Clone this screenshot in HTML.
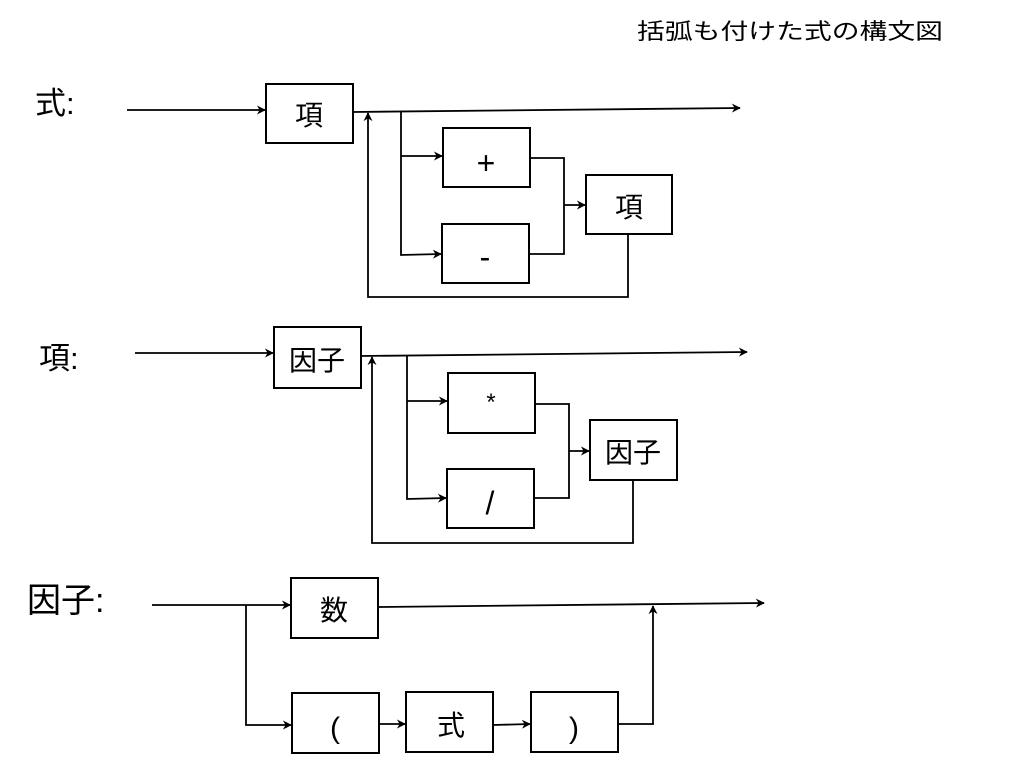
<!DOCTYPE html>
<html><head><meta charset="utf-8"><style>html,body{margin:0;padding:0;background:#fff}svg{display:block}</style></head>
<body>
<svg width="1024" height="768" viewBox="0 0 1024 768" xmlns="http://www.w3.org/2000/svg" font-family="'Liberation Sans','Noto Sans CJK JP',sans-serif">
<defs>
<marker id="a" viewBox="0 0 10 10" refX="9" refY="5" markerWidth="5" markerHeight="5" orient="auto"><path d="M0,0 L10,5 L0,10 L3,5 z" fill="#000"/></marker>
</defs>
<text x="637" y="39" font-size="22" textLength="306" lengthAdjust="spacingAndGlyphs">括弧も付けた式の構文図</text>
<text x="35" y="114" font-size="31">式:</text>
<text x="39" y="369" font-size="31">項:</text>
<text x="27" y="612" font-size="34">因子:</text>
<g fill="#fff" stroke="#000" stroke-width="2">
<rect x="266" y="84" width="87" height="59"/>
<rect x="443" y="128" width="87" height="59"/>
<rect x="442" y="224" width="87" height="59"/>
<rect x="586" y="175" width="86" height="59"/>
<rect x="274" y="327" width="87" height="61"/>
<rect x="448" y="373" width="87" height="60"/>
<rect x="447" y="469" width="87" height="59"/>
<rect x="590" y="420" width="87" height="60"/>
<rect x="291" y="578" width="87" height="60"/>
<rect x="292" y="693" width="87" height="60"/>
<rect x="406" y="692" width="87" height="60"/>
<rect x="531" y="692" width="87" height="60"/>
</g>
<g font-size="28" text-anchor="middle">
<text x="309" y="125">項</text>
<text x="486" y="174" font-size="32">+</text>
<text x="485" y="268" font-size="32">-</text>
<text x="629" y="217">項</text>
<text x="317" y="370">因子</text>
<text x="491" y="410" font-size="24">*</text>
<text x="490" y="514" font-size="32">/</text>
<text x="633" y="462">因子</text>
<text x="334" y="620">数</text>
<text x="335" y="738" font-size="30">(</text>
<text x="451" y="735">式</text>
<text x="574" y="738" font-size="30">)</text>
</g>
<g fill="none" stroke="#000" stroke-width="1.8">
<path d="M127,110 H265" marker-end="url(#a)"/>
<path d="M353,112 L740,108" marker-end="url(#a)"/>
<path d="M401,112 V255 L441,254" marker-end="url(#a)"/>
<path d="M401,156 H442" marker-end="url(#a)"/>
<path d="M530,158 H564 V254 H529"/>
<path d="M564,205 H585" marker-end="url(#a)"/>
<path d="M628,234 V297 H368 V113" marker-end="url(#a)"/>
<path d="M135,353 H273" marker-end="url(#a)"/>
<path d="M361,356 L747,352" marker-end="url(#a)"/>
<path d="M407,356 V499 L446,498" marker-end="url(#a)"/>
<path d="M407,401 H447" marker-end="url(#a)"/>
<path d="M535,404 H569 V498 H534"/>
<path d="M569,451 H589" marker-end="url(#a)"/>
<path d="M633,480 V543 H372 V357" marker-end="url(#a)"/>
<path d="M152,605 H290" marker-end="url(#a)"/>
<path d="M246,605 V725 H291" marker-end="url(#a)"/>
<path d="M379,724 H405" marker-end="url(#a)"/>
<path d="M493,725 L530,724" marker-end="url(#a)"/>
<path d="M618,724 H653 V606" marker-end="url(#a)"/>
<path d="M378,607 L764,603" marker-end="url(#a)"/>
</g>
</svg>
</body></html>
